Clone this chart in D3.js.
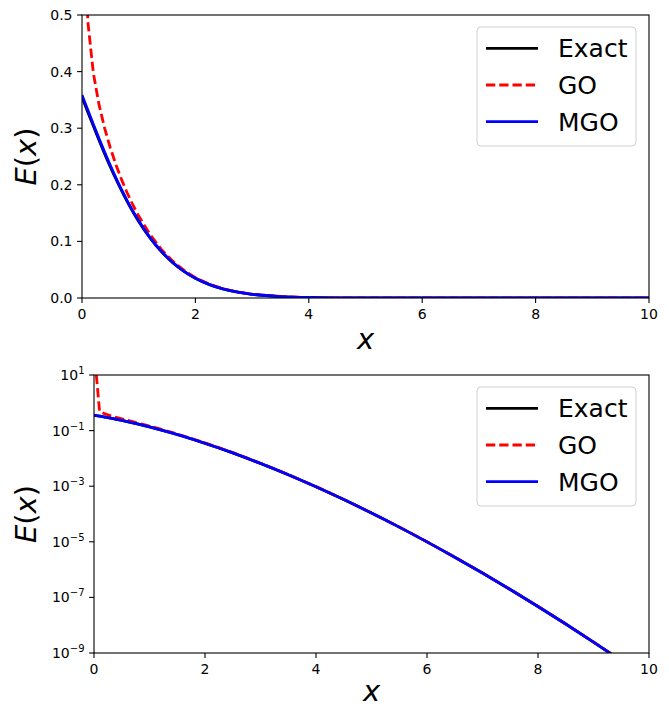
<!DOCTYPE html>
<html lang="en">
<head>
    <meta charset="UTF-8">
    <title>E(x): Exact, GO, MGO</title>
    <script src="https://cdn.jsdelivr.net/npm/d3@7"></script>
    <style>
        body { margin: 0; background: #fff; }
        text { font-family: "DejaVu Sans", sans-serif; fill: #000; }
    </style>
</head>
<body>
<div class="chart"></div>

<script type="text/javascript">
    // values
    var xs = [0, 0.1, 0.2, 0.3, 0.4, 0.5, 0.6, 0.7, 0.8, 0.9, 1.0, 1.2, 1.4, 1.6, 1.8, 2.0,
              2.25, 2.5, 2.75, 3.0, 3.5, 4.0, 4.5, 5.0, 5.5, 6.0, 6.5, 7.0, 7.5, 8.0, 8.5, 9.0, 9.5, 10.0];

    var exact = [0.3550, 0.3292, 0.3037, 0.2788, 0.2547, 0.2317, 0.2098, 0.1892, 0.1698, 0.1519, 0.1353,
                 0.1061, 0.0820, 0.0625, 0.0470, 0.0349, 0.0237, 0.01573, 0.01028, 0.006591, 0.002584,
                 9.516e-4, 3.302e-4, 1.083e-4, 3.37e-5, 9.95e-6, 2.79e-6, 7.49e-7, 1.92e-7, 4.69e-8,
                 1.10e-8, 2.47e-9, 5.3e-10, 1.1e-10];

    var go = [89, 0.491, 0.3975, 0.3416, 0.2997, 0.2650, 0.2351, 0.2087, 0.1851, 0.1639, 0.1448,
              0.1122, 0.0859, 0.0651, 0.0487, 0.0360, 0.02428, 0.01609, 0.01048, 0.00671, 0.002625,
              9.64e-4, 3.34e-4, 1.095e-4, 3.40e-5, 1.004e-5, 2.81e-6, 7.54e-7, 1.93e-7, 4.71e-8,
              1.106e-8, 2.48e-9, 5.33e-10, 1.11e-10];

    var mgo = [0.3585, 0.3325, 0.3068, 0.2816, 0.2573, 0.2340, 0.2118, 0.1909, 0.1713, 0.1531, 0.1363,
               0.1068, 0.0825, 0.0628, 0.0472, 0.0350, 0.0237, 0.01575, 0.01029, 0.006595, 0.002585,
               9.52e-4, 3.302e-4, 1.083e-4, 3.37e-5, 9.95e-6, 2.79e-6, 7.49e-7, 1.92e-7, 4.69e-8,
               1.10e-8, 2.47e-9, 5.3e-10, 1.1e-10];

    var xTicks = [0, 2, 4, 6, 8, 10];
    var linTicks = [0, 0.1, 0.2, 0.3, 0.4, 0.5];
    var logExps = [1, -1, -3, -5, -7, -9];
    var legendNames = ['Exact', 'GO', 'MGO'];

    var w = 669, h = 709;
    var svg = d3.select('.chart').append('svg')
            .attr('width', w)
            .attr('height', h);

    var series = [
        {vals: exact, color: '#000000', dash: null, curve: d3.curveMonotoneX},
        {vals: go, color: '#ff0000', dash: '9.25,4', curve: d3.curveLinear},
        {vals: mgo, color: '#0000ff', dash: null, curve: d3.curveMonotoneX}
    ];

    function panel(id, box, yScale, log) {
        var g = svg.append('g');
        var x = d3.scaleLinear().domain([0, 10]).range([box.left, box.right]);
        var y = yScale.range([box.bottom, box.top]);

        g.append('clipPath').attr('id', id)
                .append('rect')
                .attr('x', box.left).attr('y', box.top)
                .attr('width', box.right - box.left)
                .attr('height', box.bottom - box.top);

        series.forEach(function(s) {
            var line = d3.line()
                    .x(function(d) { return x(d[0]); })
                    .y(function(d) { return y(d[1]); })
                    .curve(s.curve);
            g.append('path')
                    .datum(xs.map(function(v, i) { return [v, s.vals[i]]; }))
                    .attr('clip-path', 'url(#' + id + ')')
                    .attr('d', line)
                    .attr('fill', 'none')
                    .attr('stroke', s.color)
                    .attr('stroke-width', 2.8)
                    .attr('stroke-dasharray', s.dash);
        });

        // frame
        g.append('rect')
                .attr('x', box.left).attr('y', box.top)
                .attr('width', box.right - box.left)
                .attr('height', box.bottom - box.top)
                .attr('fill', 'none')
                .attr('stroke', '#000')
                .attr('stroke-width', 1.1);

        // x ticks
        xTicks.forEach(function(t) {
            g.append('line')
                    .attr('x1', x(t)).attr('x2', x(t))
                    .attr('y1', box.bottom).attr('y2', box.bottom + 4.9)
                    .attr('stroke', '#000').attr('stroke-width', 1.1);
            g.append('text')
                    .attr('x', x(t)).attr('y', box.bottom + 20.5)
                    .attr('text-anchor', 'middle')
                    .attr('font-size', 14)
                    .text(t);
        });

        // y ticks
        var yt = log ? logExps.map(function(e) { return Math.pow(10, e); }) : linTicks;
        yt.forEach(function(t, i) {
            g.append('line')
                    .attr('x1', box.left - 4.9).attr('x2', box.left)
                    .attr('y1', y(t)).attr('y2', y(t))
                    .attr('stroke', '#000').attr('stroke-width', 1.1);
            var lbl = g.append('text')
                    .attr('x', box.left - 9.5).attr('y', y(t) + 5)
                    .attr('text-anchor', 'end')
                    .attr('font-size', 14);
            if (log) {
                lbl.append('tspan').text('10');
                lbl.append('tspan')
                        .attr('font-size', 10)
                        .attr('dy', -6)
                        .text(logExps[i] < 0 ? '\u2212' + (-logExps[i]) : logExps[i]);
            } else {
                lbl.text(d3.format('.1f')(t));
            }
        });

        // axis labels (bottom one nudged up so it stays inside the page)
        var xl = g.append('text')
                .attr('x', (box.left + box.right) / 2)
                .attr('y', Math.min(box.bottom + 51, h - 8))
                .attr('text-anchor', 'middle')
                .attr('font-size', 29);
        xl.append('tspan').attr('font-style', 'italic').text('x');

        var yl = g.append('text')
                .attr('transform', 'translate(36,' + ((box.top + box.bottom) / 2) + ') rotate(-90)')
                .attr('text-anchor', 'middle')
                .attr('font-size', 29);
        yl.append('tspan').attr('font-style', 'italic').text('E');
        yl.append('tspan').text('(');
        yl.append('tspan').attr('font-style', 'italic').text('x');
        yl.append('tspan').text(')');

        // legend
        var lx = 477, ly = box.top + 12;
        g.append('rect')
                .attr('x', lx).attr('y', ly)
                .attr('width', 159).attr('height', 119)
                .attr('rx', 4)
                .attr('fill', '#fff').attr('fill-opacity', 0.8)
                .attr('stroke', '#d0d0d0').attr('stroke-width', 1);
        legendNames.forEach(function(name, i) {
            var s = series[i];
            var cy = ly + 21.3 + i * 36.7;
            g.append('line')
                    .attr('x1', lx + 9).attr('x2', lx + 61)
                    .attr('y1', cy).attr('y2', cy)
                    .attr('stroke', s.color)
                    .attr('stroke-width', 2.8)
                    .attr('stroke-dasharray', s.dash);
            g.append('text')
                    .attr('x', lx + 81).attr('y', cy + 9)
                    .attr('font-size', 25)
                    .text(name);
        });
    }

    panel('clipTop', {left: 82, right: 649, top: 15, bottom: 298},
            d3.scaleLinear().domain([0, 0.5]), false);
    panel('clipBottom', {left: 94, right: 649, top: 375, bottom: 653},
            d3.scaleLog().domain([1e-9, 1e1]), true);
</script>
</body>
</html>
